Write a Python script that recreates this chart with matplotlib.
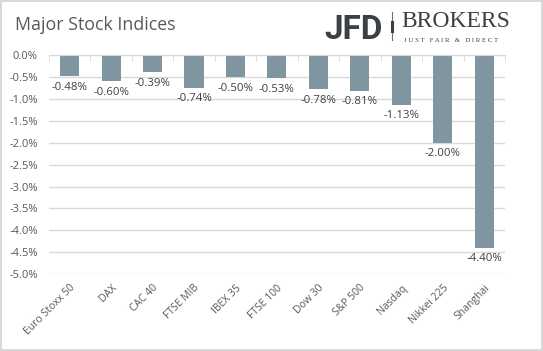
import numpy as np
import matplotlib
matplotlib.use("Agg")
import matplotlib.pyplot as plt
from matplotlib.ticker import FuncFormatter, MultipleLocator, FixedLocator

# ── data ──────────────────────────────────────────────────────────────────────
indices = ["Euro Stoxx 50", "DAX", "CAC 40", "FTSE MIB", "IBEX 35", "FTSE 100",
           "Dow 30", "S&P 500", "Nasdaq", "Nikkei 225", "Shanghai"]
changes = [-0.48, -0.60, -0.39, -0.74, -0.50, -0.53,
           -0.78, -0.81, -1.13, -2.00, -4.40]

BAR_COLOR  = "#7f959f"
TEXT_COLOR = "#595959"
GRID_COLOR = "#d9d9d9"
FONT = ["Open Sans", "DejaVu Sans"]

plt.rcParams["font.family"] = FONT

fig = plt.figure(figsize=(5.43, 3.51), dpi=100,
                 edgecolor=GRID_COLOR, linewidth=1.5)
ax = fig.add_axes([0.090, 0.219, 0.840, 0.624])

x = np.arange(len(indices))
ax.bar(x, changes, width=0.46, color=BAR_COLOR, zorder=3)

for xi, v in zip(x, changes):
    ax.annotate(f"{v:.2f}%", (xi, v), xytext=(0, -4), textcoords="offset points",
                ha="center", va="top", fontsize=8.2, color="#404040")

ax.set_xlim(-0.5, len(indices) - 0.5)
ax.set_ylim(-5.0, 0.0)
ax.yaxis.set_major_locator(MultipleLocator(0.5))
ax.yaxis.set_major_formatter(FuncFormatter(lambda v, _: f"{v:.1f}%"))
ax.grid(axis="y", color=GRID_COLOR, linewidth=1.0, zorder=0)

ax.set_xticks(x)
ax.set_xticklabels(indices, rotation=45, ha="right", rotation_mode="anchor")
ax.xaxis.set_minor_locator(FixedLocator(np.arange(-0.5, len(indices), 1.0)))
ax.tick_params(axis="x", which="major", length=0, pad=6, labelsize=7.5,
               labelcolor=TEXT_COLOR)
ax.tick_params(axis="x", which="minor", bottom=False, top=True, direction="in",
               length=4, color=GRID_COLOR)
ax.tick_params(axis="y", length=0, labelsize=8, labelcolor=TEXT_COLOR, pad=8)

for side in ["left", "right", "bottom"]:
    ax.spines[side].set_visible(False)
ax.spines["top"].set_color(GRID_COLOR)
ax.spines["top"].set_zorder(4)

# ── title and logo ────────────────────────────────────────────────────────────
fig.text(0.027, 0.928, "Major Stock Indices", fontsize=12.8, color=TEXT_COLOR,
         ha="left", va="center")
fig.text(0.597, 0.915, "JFD", fontsize=24, fontweight="bold", color="#3b4047",
         ha="left", va="center", family=["Roboto", "DejaVu Sans"])
fig.add_artist(plt.Line2D([0.721, 0.721], [0.885, 0.965], color="#6b7078",
                          linewidth=0.8))
fig.add_artist(plt.Line2D([0.721, 0.721], [0.912, 0.938], color="#3b4047",
                          linewidth=2.2))
fig.text(0.740, 0.940, "BROKERS", fontsize=17, color="#3b4047",
         ha="left", va="center", family=["Liberation Serif", "DejaVu Serif"])
fig.text(0.744, 0.885, "J U S T   F A I R   &   D I R E C T", fontsize=4.9,
         color="#3b4047", ha="left", va="center",
         family=["Liberation Serif", "DejaVu Serif"])

fig.savefig("out.png", dpi=100)
